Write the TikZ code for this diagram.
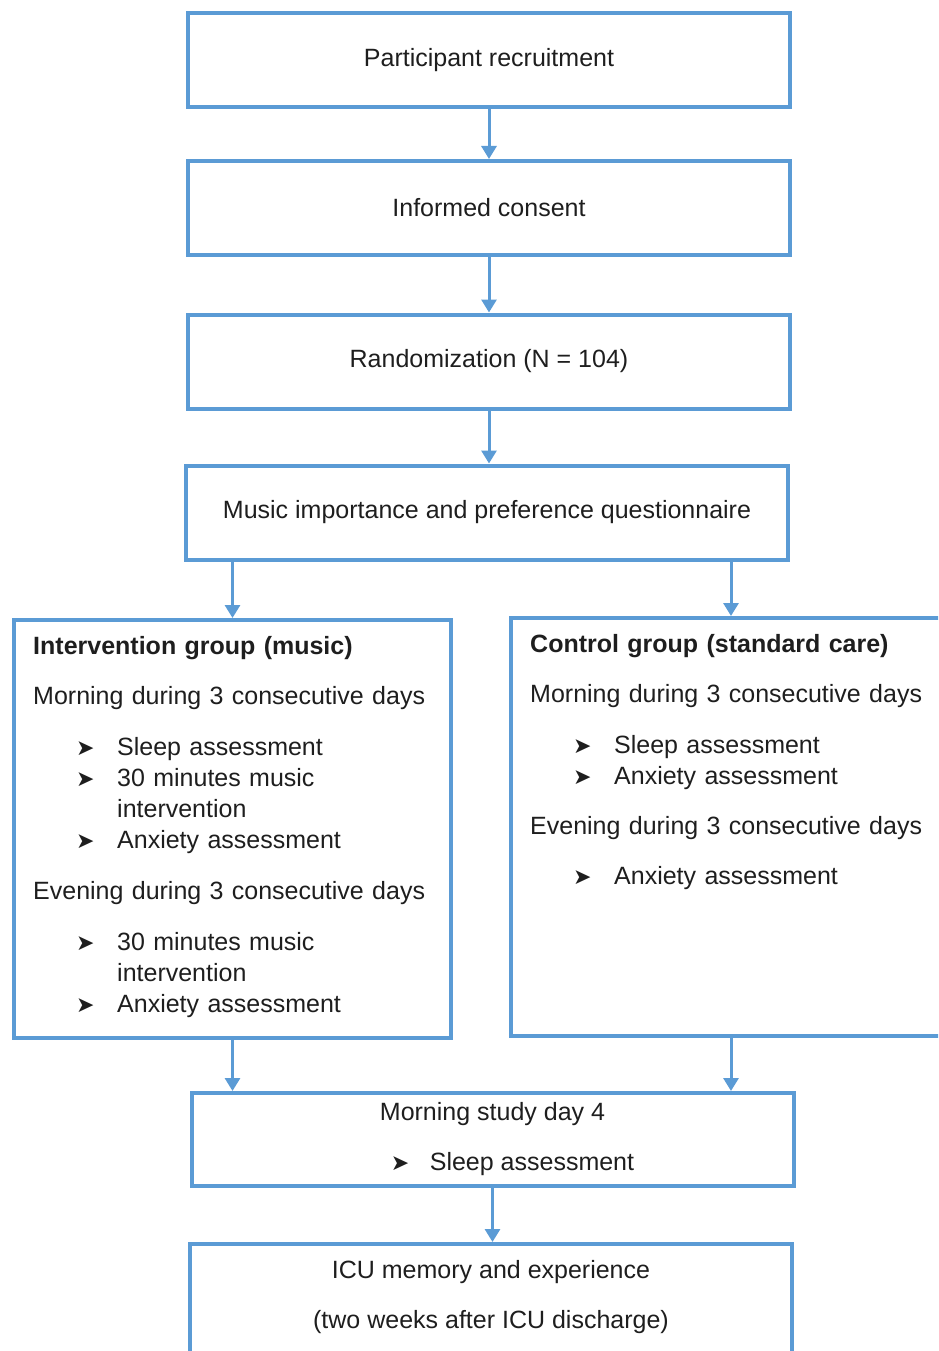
\documentclass[tikz,border=0pt]{standalone}
\usepackage{fontspec}
\setmainfont{Liberation Sans}
\newfontfamily\dingfont{DejaVu Sans}
\usetikzlibrary{arrows.meta}
\definecolor{boxblue}{RGB}{91,155,213}
\definecolor{txtgray}{RGB}{30,30,30}
\newcommand{\bul}{{\dingfont\fontsize{22}{22}\selectfont ➤}}
\newcommand{\itm}[1]{\hspace*{43pt}\makebox[41pt][l]{\bul}#1}
\newcommand{\cont}[1]{\hspace*{84pt}#1}

\begin{document}
\begin{tikzpicture}[x=1pt,y=-1pt,>={Triangle[width=15pt,length=13pt]},
  every node/.style={font=\fontsize{25}{31}\selectfont,text=txtgray},
  flowbox/.style={draw=boxblue,line width=4pt,minimum width=602pt,
    minimum height=94pt,inner sep=0pt,align=center},
  grouptext/.style={anchor=base west,align=left,text width=420pt,inner sep=0pt},
  flow/.style={draw=boxblue,line width=3pt,->}]
  \useasboundingbox (0,0) rectangle (938,1351);
  \clip (0,0) rectangle (938,1351);

  % main column
  \node[flowbox] (rec) at (489,60) {Participant recruitment};
  \node[flowbox] (cons) at (489,208) {Informed consent};
  \node[flowbox] (rand) at (489,361.5) {Randomization (N = 104)};
  \node[flowbox] (music) at (487,512.5) {Music importance and preference questionnaire};

  % the two groups
  \node[flowbox,minimum width=437pt,minimum height=418pt] (interv) at (232.5,829) {};
  \node[grouptext] (intervtxt) at (33,654) {%
    {\bfseries Intervention group (music)}\\[19pt]
    Morning during 3 consecutive days\\[20pt]
    \itm{Sleep assessment}\\
    \itm{30 minutes music}\\
    \cont{intervention}\\
    \itm{Anxiety assessment}\\[20pt]
    Evening during 3 consecutive days\\[20pt]
    \itm{30 minutes music}\\
    \cont{intervention}\\
    \itm{Anxiety assessment}};

  \node[flowbox,minimum width=440pt,minimum height=418pt] (ctrl) at (731,827) {};
  \node[grouptext] (ctrltxt) at (530,652) {%
    {\bfseries Control group (standard care)}\\[19pt]
    Morning during 3 consecutive days\\[20pt]
    \itm{Sleep assessment}\\
    \itm{Anxiety assessment}\\[19pt]
    Evening during 3 consecutive days\\[19pt]
    \itm{Anxiety assessment}};

  % follow-up
  \node[flowbox,minimum height=93pt] (day4) at (492.5,1139.5) {%
    Morning study day 4\\[19pt]
    \hspace*{40pt}\makebox[39pt][l]{\bul}Sleep assessment};
  \node[flowbox,minimum height=140pt] (icu) at (491,1314) {};
  \node[align=center,anchor=base,inner sep=0pt] (icutxt) at (491,1328) {%
    ICU memory and experience\\[19pt]
    (two weeks after ICU discharge)};

  % arrows
  \draw[flow] (rec.south) -- (rec.south |- cons.north);
  \draw[flow] (cons.south) -- (cons.south |- rand.north);
  \draw[flow] (rand.south) -- (rand.south |- music.north);
  \draw[flow] (music.south -| interv.north) -- (interv.north);
  \draw[flow] (music.south -| ctrl.north) -- (ctrl.north);
  \draw[flow] (interv.south) -- (interv.south |- day4.north);
  \draw[flow] (ctrl.south) -- (ctrl.south |- day4.north);
  \draw[flow] (day4.south) -- (day4.south |- icu.north);
\end{tikzpicture}
\end{document}
